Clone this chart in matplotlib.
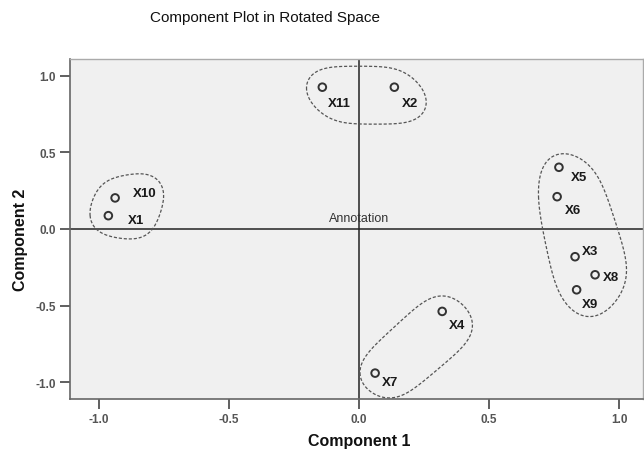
import numpy as np
import matplotlib.pyplot as plt

plt.rcParams['font.family'] = ['Liberation Sans', 'DejaVu Sans']

# component loadings
names = ['X1', 'X2', 'X3', 'X4', 'X5', 'X6', 'X7', 'X8', 'X9', 'X10', 'X11']
comp1 = [-0.964, 0.136, 0.831, 0.320, 0.769, 0.762, 0.062, 0.908, 0.837, -0.938, -0.141]
comp2 = [0.087, 0.926, -0.181, -0.538, 0.403, 0.211, -0.941, -0.299, -0.397, 0.203, 0.926]

# hand-drawn groupings
groups = [['X1', 'X10'], ['X11', 'X2'], ['X5', 'X6', 'X3', 'X8', 'X9'], ['X4', 'X7']]

ticks = [-1.0, -0.5, 0.0, 0.5, 1.0]

# label offsets in pixels (right, down) from each point
label_px = {'X1': (28, 4), 'X2': (16, 16), 'X3': (15, -6), 'X4': (15, 14),
            'X5': (20, 10), 'X6': (16, 13), 'X7': (15, 9), 'X8': (16, 2),
            'X9': (13, 14), 'X10': (30, -5), 'X11': (17, 16)}


def convex_hull(pts):
    """Andrew's monotone chain on an (n, 2) array."""
    pts = sorted(map(tuple, pts))

    def cross(o, a, b):
        return (a[0] - o[0]) * (b[1] - o[1]) - (a[1] - o[1]) * (b[0] - o[0])

    lower, upper = [], []
    for p in pts:
        while len(lower) >= 2 and cross(lower[-2], lower[-1], p) <= 0:
            lower.pop()
        lower.append(p)
    for p in reversed(pts):
        while len(upper) >= 2 and cross(upper[-2], upper[-1], p) <= 0:
            upper.pop()
        upper.append(p)
    return np.array(lower[:-1] + upper[:-1])


def smooth_loop(poly, n=240, sigma=0.05):
    """Resample a closed polygon by arc length and blur it along its length."""
    closed = np.vstack([poly, poly[:1]])
    seg = np.hypot(*np.diff(closed, axis=0).T)
    s = np.concatenate([[0], np.cumsum(seg)])
    t = np.linspace(0, s[-1], n, endpoint=False)
    z = np.interp(t, s, closed[:, 0]) + 1j * np.interp(t, s, closed[:, 1])
    k = np.fft.fftfreq(n, 1 / n)
    z = np.fft.ifft(np.fft.fft(z) * np.exp(-0.5 * (2 * np.pi * k * sigma) ** 2))
    out = np.column_stack([z.real, z.imag])
    return np.vstack([out, out[:1]])


W, H = 644, 452
fig = plt.figure(figsize=(W / 100, H / 100), dpi=100, facecolor='white')
ax = fig.add_axes([70 / W, 52 / H, (643 - 70) / W, 340 / H])
ax.set_facecolor('#f0f0f0')
ax.set_xlim(-1.1115, 1.0923)
ax.set_ylim(-1.11, 1.11)

ax.axhline(0, color='#222222', lw=1.1, zorder=1)
ax.axvline(0, color='#222222', lw=1.1, zorder=1)

ax.scatter(comp1, comp2, s=30, facecolors='none', edgecolors='#333333',
           linewidths=1.4, zorder=3)

for n, x, y in zip(names, comp1, comp2):
    dx, dy = label_px[n]
    ax.annotate(n, (x, y), xytext=(dx * 0.72, -dy * 0.72), textcoords='offset points',
                ha='center', va='center', fontsize=9.5, fontweight='bold',
                color='#1a1a1a', zorder=4)

# dashed outlines: padded, smoothed hull around each group's points and labels
pad = 21
theta = np.linspace(0, 2 * np.pi, 60, endpoint=False)
ring = np.column_stack([np.cos(theta), np.sin(theta)]) * pad
for g in groups:
    idx = [names.index(n) for n in g]
    disp = ax.transData.transform(np.column_stack([[comp1[i] for i in idx],
                                                   [comp2[i] for i in idx]]))
    labs = disp + np.array([(label_px[n][0], -label_px[n][1]) for n in g])
    centers = np.vstack([disp, labs])
    cloud = (centers[:, None, :] + ring[None, :, :]).reshape(-1, 2)
    loop = smooth_loop(convex_hull(cloud))
    outline = ax.transData.inverted().transform(loop)
    ax.plot(outline[:, 0], outline[:, 1], color='#555555', lw=0.9,
            linestyle=(0, (2.5, 1.5)), zorder=2)

ax.text(0, 0.03, 'Annotation', ha='center', va='bottom', fontsize=9,
        color='#333333', zorder=2)

ax.set_xticks(ticks)
ax.set_yticks(ticks)
ax.set_xticklabels([f'{t:.1f}' for t in ticks])
ax.set_yticklabels([f'{t:.1f}' for t in ticks])
ax.tick_params(direction='out', length=7, width=1.2, color='#444444',
               labelsize=8.5, labelcolor='#555555', pad=3)
for lab in ax.get_xticklabels() + ax.get_yticklabels():
    lab.set_fontweight('bold')

for side in ['top', 'right']:
    ax.spines[side].set_color('#aaaaaa')
    ax.spines[side].set_linewidth(1.0)
for side in ['left', 'bottom']:
    ax.spines[side].set_color('#666666')
    ax.spines[side].set_linewidth(1.2)

ax.set_xlabel('Component 1', fontsize=11.5, fontweight='bold', color='#111111')
ax.xaxis.set_label_coords((359 - 70) / (643 - 70), -34 / 340)
ax.set_ylabel('Component 2', fontsize=11.5, fontweight='bold', color='#111111')
ax.yaxis.set_label_coords(-42 / (643 - 70), (400 - 240) / 340)

fig.text(265 / W, 1 - 18 / H, 'Component Plot in Rotated Space', ha='center',
         va='center', fontsize=11, color='#111111')

fig.savefig('out.png', dpi=100, facecolor='white')
